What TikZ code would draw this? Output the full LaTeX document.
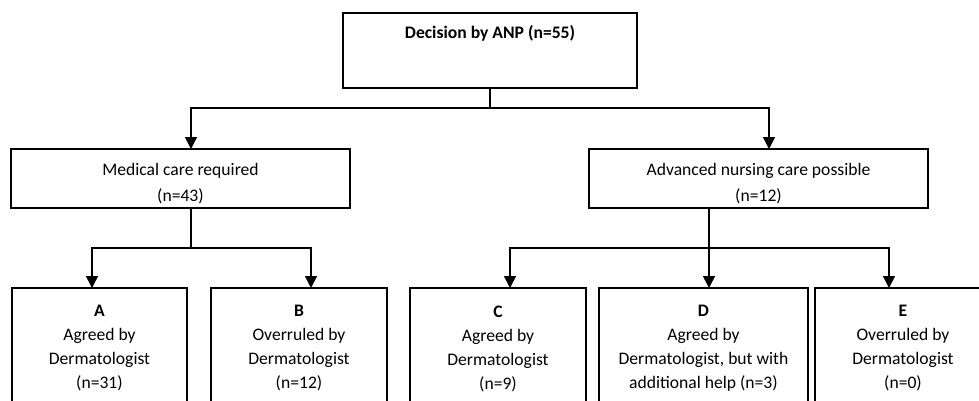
\documentclass[tikz,border=0pt]{standalone}
\usepackage{fontspec}
\setmainfont{Carlito}
\usetikzlibrary{arrows.meta, positioning}

\begin{document}
\begin{tikzpicture}[x=1pt, y=-1pt, >={Triangle[length=12pt, width=12pt]},
    line width=1.6pt,
    box/.style={draw, rectangle, outer sep=0pt, inner sep=0pt, align=center,
      font=\fontsize{17.6}{24}\selectfont, anchor=north west},
    midbox/.style={box, minimum width=339pt, minimum height=59pt,
      font=\fontsize{17.6}{26}\selectfont},
    leaf/.style={box, minimum width=176pt, minimum height=121pt}]
  \useasboundingbox (0,0) rectangle (979,401);
  \clip (0,0) rectangle (979,401);
  % top decision
  \node[box, minimum width=294pt, minimum height=75pt,
    label={[anchor=base, yshift=-26pt, font=\fontsize{17.6}{24}\selectfont\bfseries]north:Decision by ANP (n=55)}]
    (anp) at (343,13) {};
  % second level (strut pushes the two lines down a bit)
  \node[midbox] (med) at (11,149) {\rule{0pt}{23pt}Medical care required\\(n=43)};
  \node[midbox] (adv) at (589,149) {\rule{0pt}{23pt}Advanced nursing care possible\\(n=12)};
  % outcomes
  \node[leaf, minimum width=175pt] (ca) at (12,288) {\textbf{A}\\Agreed by\\Dermatologist\\(n=31)};
  \node[leaf] (cb) at (211,288) {\textbf{B}\\Overruled by\\Dermatologist\\(n=12)};
  \node[leaf] (cc) at (410,288) {\textbf{C}\\Agreed by\\Dermatologist\\(n=9)};
  \node[leaf, minimum width=209pt] (cd) at (599,288) {\textbf{D}\\Agreed by\\Dermatologist, but with\\additional help (n=3)};
  \node[leaf] (ce) at (815,288) {\textbf{E}\\Overruled by\\Dermatologist\\(n=0)};

  \draw (anp.south) -- ++(0,20) coordinate (j0);
  \draw[->] (j0) -| ([xshift=10.5pt]med.north);
  \draw[->] (j0) -| ([xshift=10.5pt]adv.north);

  \draw ([xshift=10.5pt]med.south) -- ++(0,40) coordinate (j1);
  \draw[->] (j1) -| ([xshift=-7.5pt]ca.north);
  \draw[->] (j1) -| ([xshift=12pt]cb.north);

  \draw ([xshift=-49.5pt]adv.south) -- ++(0,40) coordinate (j2);
  \draw[->] (j2) -| ([xshift=12pt]cc.north);
  \draw[->] (j2) -- ([xshift=5.5pt]cd.north);
  \draw[->] (j2) -| ([xshift=-14pt]ce.north);
\end{tikzpicture}
\end{document}
